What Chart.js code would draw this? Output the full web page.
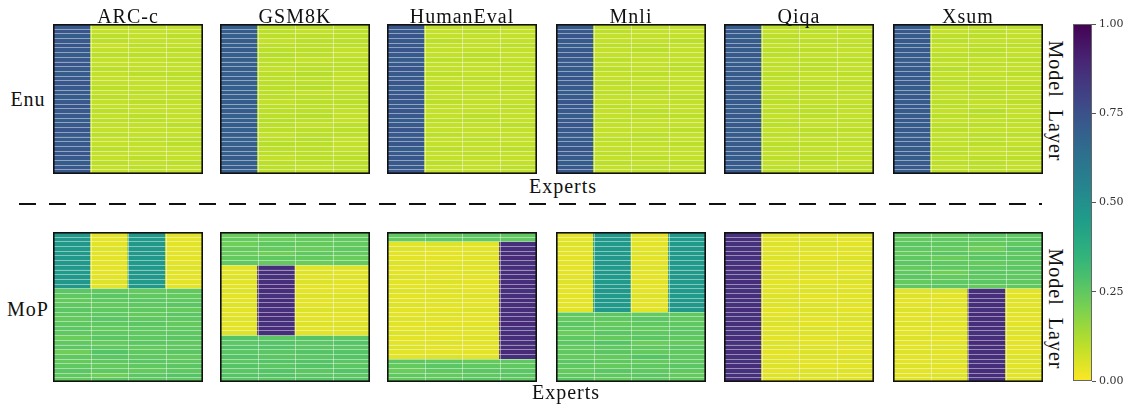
<!DOCTYPE html>
<html>
<head>
<meta charset="utf-8">
<script src="https://cdn.jsdelivr.net/npm/chart.js@4.4.1/dist/chart.umd.min.js"></script>
<style>
  html, body { margin: 0; padding: 0; background: #fff; width: 1128px; height: 410px; overflow: hidden; }
  #fig { position: relative; width: 1128px; height: 410px; font-family: "Liberation Serif", "Times New Roman", serif; color: #111; }
  .lbl { position: absolute; font-size: 20px; line-height: 20px; white-space: nowrap; letter-spacing: 1px; }
  .vert { position: absolute; font-size: 20px; line-height: 20px; white-space: pre; letter-spacing: 1px; transform: translate(-50%, -50%) rotate(90deg); }
  canvas { position: absolute; }
</style>
</head>
<body>
<div id="fig"></div>
<script>
// ---- labels ----
const TASKS = ['ARC-c', 'GSM8K', 'HumanEval', 'Mnli', 'Qiqa', 'Xsum'];
const METHODS = ['Enu', 'MoP'];
const EXPERTS = ['Expert 1', 'Expert 2', 'Expert 3', 'Expert 4'];
const CBAR_TICKS = [0, 0.25, 0.5, 0.75, 1];

// ---- routing weights: one row per model layer (top = first layer), one column per expert ----
const enuArc = [
  [0.72,0.09,0.10,0.09],[0.73,0.09,0.09,0.09],[0.71,0.10,0.09,0.10],[0.72,0.10,0.09,0.09],
  [0.73,0.08,0.10,0.09],[0.72,0.09,0.09,0.10],[0.71,0.10,0.10,0.09],[0.72,0.09,0.09,0.10],
  [0.73,0.09,0.09,0.09],[0.72,0.10,0.09,0.09],[0.71,0.09,0.10,0.10],[0.72,0.09,0.09,0.10],
  [0.73,0.09,0.09,0.09],[0.72,0.10,0.09,0.09],[0.72,0.09,0.10,0.09],[0.71,0.10,0.09,0.10],
  [0.72,0.09,0.10,0.09],[0.73,0.09,0.09,0.09],[0.72,0.10,0.09,0.09],[0.72,0.09,0.10,0.09],
  [0.71,0.10,0.10,0.09],[0.72,0.09,0.09,0.10],[0.73,0.09,0.09,0.09],[0.72,0.10,0.09,0.09],
  [0.71,0.09,0.10,0.10],[0.72,0.09,0.09,0.10],[0.72,0.10,0.09,0.09],[0.73,0.09,0.09,0.09],
  [0.72,0.09,0.10,0.09],[0.71,0.10,0.09,0.10],[0.72,0.09,0.10,0.09],[0.73,0.09,0.09,0.09]
];
const enuGsm = [
  [0.70,0.10,0.10,0.10],[0.71,0.10,0.09,0.10],[0.70,0.10,0.10,0.10],[0.71,0.09,0.10,0.10],
  [0.70,0.10,0.10,0.10],[0.71,0.10,0.10,0.09],[0.70,0.11,0.10,0.09],[0.71,0.10,0.09,0.10],
  [0.70,0.10,0.10,0.10],[0.71,0.09,0.10,0.10],[0.70,0.10,0.11,0.09],[0.71,0.10,0.10,0.09],
  [0.70,0.10,0.10,0.10],[0.70,0.10,0.11,0.09],[0.71,0.10,0.09,0.10],[0.70,0.10,0.10,0.10],
  [0.71,0.09,0.10,0.10],[0.70,0.10,0.10,0.10],[0.71,0.10,0.10,0.09],[0.70,0.10,0.11,0.09],
  [0.70,0.11,0.10,0.09],[0.71,0.10,0.09,0.10],[0.70,0.10,0.10,0.10],[0.71,0.09,0.10,0.10],
  [0.70,0.10,0.11,0.09],[0.70,0.11,0.10,0.09],[0.71,0.10,0.10,0.09],[0.70,0.10,0.10,0.10],
  [0.71,0.09,0.10,0.10],[0.70,0.10,0.10,0.10],[0.71,0.10,0.09,0.10],[0.70,0.10,0.10,0.10]
];
const enuHe = [
  [0.73,0.09,0.09,0.09],[0.72,0.09,0.10,0.09],[0.73,0.09,0.09,0.09],[0.72,0.10,0.09,0.09],
  [0.72,0.09,0.09,0.10],[0.73,0.09,0.09,0.09],[0.72,0.09,0.10,0.09],[0.71,0.10,0.10,0.09],
  [0.72,0.09,0.09,0.10],[0.73,0.09,0.09,0.09],[0.72,0.10,0.09,0.09],[0.72,0.09,0.10,0.09],
  [0.73,0.09,0.09,0.09],[0.71,0.10,0.09,0.10],[0.72,0.09,0.10,0.09],[0.73,0.09,0.09,0.09],
  [0.72,0.10,0.09,0.09],[0.72,0.09,0.09,0.10],[0.73,0.09,0.09,0.09],[0.72,0.09,0.10,0.09],
  [0.71,0.10,0.10,0.09],[0.72,0.09,0.09,0.10],[0.73,0.09,0.09,0.09],[0.72,0.10,0.09,0.09],
  [0.72,0.09,0.10,0.09],[0.73,0.09,0.09,0.09],[0.71,0.10,0.09,0.10],[0.72,0.09,0.10,0.09],
  [0.73,0.09,0.09,0.09],[0.72,0.10,0.09,0.09],[0.72,0.09,0.09,0.10],[0.73,0.09,0.09,0.09]
];
const enuMnli = [
  [0.72,0.09,0.10,0.09],[0.72,0.10,0.09,0.09],[0.73,0.09,0.09,0.09],[0.72,0.09,0.09,0.10],
  [0.71,0.10,0.10,0.09],[0.72,0.09,0.10,0.09],[0.73,0.09,0.09,0.09],[0.72,0.10,0.09,0.09],
  [0.72,0.09,0.09,0.10],[0.71,0.10,0.09,0.10],[0.72,0.09,0.10,0.09],[0.73,0.09,0.09,0.09],
  [0.72,0.10,0.09,0.09],[0.72,0.09,0.10,0.09],[0.71,0.10,0.10,0.09],[0.72,0.09,0.09,0.10],
  [0.73,0.09,0.09,0.09],[0.72,0.10,0.09,0.09],[0.72,0.09,0.10,0.09],[0.71,0.09,0.10,0.10],
  [0.72,0.10,0.09,0.09],[0.73,0.09,0.09,0.09],[0.72,0.09,0.09,0.10],[0.72,0.09,0.10,0.09],
  [0.71,0.10,0.10,0.09],[0.72,0.09,0.09,0.10],[0.73,0.09,0.09,0.09],[0.72,0.10,0.09,0.09],
  [0.72,0.09,0.10,0.09],[0.71,0.10,0.09,0.10],[0.72,0.09,0.10,0.09],[0.73,0.09,0.09,0.09]
];
const enuQiqa = [
  [0.71,0.10,0.10,0.09],[0.72,0.09,0.10,0.09],[0.71,0.10,0.09,0.10],[0.71,0.10,0.10,0.09],
  [0.72,0.09,0.09,0.10],[0.71,0.10,0.10,0.09],[0.72,0.10,0.09,0.09],[0.71,0.09,0.10,0.10],
  [0.71,0.10,0.10,0.09],[0.72,0.09,0.10,0.09],[0.71,0.10,0.09,0.10],[0.72,0.10,0.09,0.09],
  [0.71,0.09,0.10,0.10],[0.71,0.10,0.10,0.09],[0.72,0.09,0.09,0.10],[0.71,0.10,0.10,0.09],
  [0.72,0.10,0.09,0.09],[0.71,0.09,0.10,0.10],[0.71,0.10,0.10,0.09],[0.72,0.09,0.10,0.09],
  [0.71,0.10,0.09,0.10],[0.72,0.10,0.09,0.09],[0.71,0.09,0.10,0.10],[0.71,0.10,0.10,0.09],
  [0.72,0.09,0.09,0.10],[0.71,0.10,0.10,0.09],[0.72,0.10,0.09,0.09],[0.71,0.09,0.10,0.10],
  [0.71,0.10,0.10,0.09],[0.72,0.09,0.10,0.09],[0.71,0.10,0.09,0.10],[0.72,0.10,0.09,0.09]
];
const enuXsum = [
  [0.71,0.10,0.09,0.10],[0.72,0.09,0.10,0.09],[0.71,0.10,0.10,0.09],[0.72,0.10,0.09,0.09],
  [0.71,0.09,0.10,0.10],[0.72,0.09,0.10,0.09],[0.71,0.10,0.10,0.09],[0.71,0.10,0.09,0.10],
  [0.72,0.09,0.10,0.09],[0.71,0.11,0.09,0.09],[0.72,0.09,0.09,0.10],[0.71,0.10,0.10,0.09],
  [0.72,0.10,0.09,0.09],[0.71,0.09,0.10,0.10],[0.71,0.10,0.10,0.09],[0.72,0.09,0.10,0.09],
  [0.71,0.10,0.09,0.10],[0.72,0.10,0.09,0.09],[0.71,0.09,0.11,0.09],[0.71,0.10,0.10,0.09],
  [0.72,0.09,0.09,0.10],[0.71,0.10,0.10,0.09],[0.72,0.10,0.09,0.09],[0.71,0.09,0.10,0.10],
  [0.71,0.10,0.10,0.09],[0.72,0.09,0.10,0.09],[0.71,0.10,0.09,0.10],[0.72,0.10,0.09,0.09],
  [0.71,0.09,0.10,0.10],[0.71,0.10,0.10,0.09],[0.72,0.09,0.10,0.09],[0.71,0.10,0.09,0.10]
];

const mopArc = [
  [0.47,0.04,0.47,0.04],[0.47,0.04,0.46,0.04],[0.47,0.04,0.47,0.04],[0.46,0.05,0.47,0.04],
  [0.47,0.04,0.47,0.04],[0.47,0.04,0.47,0.04],[0.47,0.04,0.46,0.04],[0.47,0.04,0.47,0.05],
  [0.46,0.04,0.47,0.04],[0.47,0.04,0.47,0.04],[0.47,0.05,0.46,0.04],[0.47,0.04,0.47,0.04],
  [0.26,0.25,0.24,0.25],[0.25,0.26,0.25,0.24],[0.24,0.25,0.26,0.25],[0.25,0.24,0.25,0.26],
  [0.26,0.25,0.25,0.24],[0.25,0.25,0.24,0.26],[0.24,0.26,0.25,0.25],[0.25,0.25,0.26,0.24],
  [0.26,0.24,0.25,0.25],[0.25,0.25,0.25,0.25],[0.23,0.26,0.25,0.26],[0.25,0.24,0.26,0.25],
  [0.26,0.25,0.24,0.25],[0.22,0.27,0.25,0.26],[0.25,0.26,0.25,0.24],[0.24,0.25,0.26,0.25],
  [0.25,0.24,0.25,0.26],[0.26,0.25,0.24,0.25],[0.25,0.22,0.26,0.27],[0.24,0.26,0.25,0.25]
];
const mopGsm = [
  [0.23,0.24,0.25,0.24],[0.24,0.23,0.24,0.25],[0.22,0.25,0.24,0.24],[0.24,0.24,0.23,0.25],
  [0.23,0.22,0.25,0.24],[0.24,0.25,0.24,0.23],[0.25,0.24,0.23,0.24],
  [0.04,0.87,0.04,0.05],[0.04,0.87,0.05,0.04],[0.05,0.86,0.04,0.05],[0.04,0.87,0.05,0.04],
  [0.04,0.88,0.04,0.04],[0.05,0.87,0.04,0.04],[0.04,0.86,0.05,0.05],[0.04,0.87,0.04,0.05],
  [0.05,0.87,0.04,0.04],[0.04,0.86,0.05,0.05],[0.04,0.88,0.04,0.04],[0.05,0.87,0.04,0.04],
  [0.04,0.86,0.05,0.05],[0.04,0.87,0.04,0.05],[0.05,0.87,0.04,0.04],
  [0.27,0.26,0.27,0.26],[0.26,0.27,0.26,0.27],[0.27,0.27,0.26,0.26],[0.26,0.26,0.27,0.27],
  [0.27,0.26,0.26,0.27],[0.26,0.27,0.27,0.26],[0.27,0.26,0.27,0.26],[0.26,0.27,0.26,0.27],
  [0.27,0.27,0.26,0.26],[0.26,0.26,0.27,0.27]
];
const mopHe = [
  [0.25,0.24,0.26,0.25],[0.24,0.26,0.25,0.25],
  [0.04,0.05,0.04,0.87],[0.05,0.04,0.04,0.87],[0.04,0.04,0.05,0.87],[0.04,0.04,0.04,0.88],
  [0.05,0.04,0.05,0.86],[0.04,0.05,0.04,0.87],[0.04,0.04,0.05,0.87],[0.05,0.04,0.04,0.87],
  [0.04,0.05,0.04,0.87],[0.04,0.04,0.04,0.88],[0.05,0.05,0.04,0.86],[0.04,0.04,0.05,0.87],
  [0.04,0.05,0.04,0.87],[0.05,0.04,0.04,0.87],[0.04,0.04,0.05,0.87],[0.04,0.05,0.04,0.87],
  [0.05,0.04,0.04,0.87],[0.04,0.04,0.04,0.88],[0.04,0.05,0.05,0.86],[0.05,0.04,0.04,0.87],
  [0.04,0.04,0.05,0.87],[0.04,0.05,0.04,0.87],[0.05,0.04,0.04,0.87],[0.04,0.04,0.04,0.88],
  [0.04,0.05,0.04,0.87],
  [0.26,0.25,0.24,0.25],[0.24,0.26,0.25,0.25],[0.23,0.25,0.26,0.26],[0.25,0.24,0.25,0.26],
  [0.24,0.25,0.26,0.25]
];
const mopMnli = [
  [0.04,0.47,0.04,0.46],[0.04,0.47,0.04,0.46],[0.05,0.46,0.04,0.46],[0.04,0.47,0.04,0.47],
  [0.04,0.46,0.05,0.46],[0.04,0.47,0.04,0.47],[0.04,0.47,0.04,0.46],[0.04,0.46,0.05,0.46],
  [0.04,0.47,0.04,0.47],[0.04,0.46,0.04,0.47],[0.05,0.46,0.04,0.46],[0.04,0.47,0.04,0.47],
  [0.04,0.47,0.04,0.46],[0.04,0.46,0.05,0.46],[0.04,0.47,0.04,0.47],[0.04,0.46,0.04,0.47],
  [0.04,0.47,0.04,0.47],
  [0.25,0.26,0.24,0.25],[0.24,0.25,0.26,0.25],[0.26,0.24,0.25,0.25],[0.25,0.25,0.24,0.26],
  [0.23,0.26,0.25,0.26],[0.25,0.24,0.26,0.25],[0.26,0.27,0.23,0.24],[0.24,0.25,0.25,0.26],
  [0.25,0.26,0.24,0.25],[0.24,0.24,0.27,0.25],[0.26,0.25,0.24,0.25],[0.25,0.24,0.25,0.26],
  [0.24,0.26,0.25,0.25],[0.25,0.25,0.26,0.24],[0.26,0.24,0.25,0.25]
];
const mopQiqa = [
  [0.86,0.05,0.04,0.05],[0.87,0.04,0.05,0.04],[0.86,0.05,0.05,0.04],[0.86,0.04,0.05,0.05],
  [0.87,0.05,0.04,0.04],[0.86,0.05,0.04,0.05],[0.86,0.04,0.05,0.05],[0.87,0.04,0.05,0.04],
  [0.86,0.05,0.05,0.04],[0.86,0.05,0.04,0.05],[0.87,0.04,0.04,0.05],[0.86,0.05,0.05,0.04],
  [0.86,0.04,0.05,0.05],[0.87,0.05,0.04,0.04],[0.86,0.05,0.04,0.05],[0.86,0.05,0.05,0.04],
  [0.87,0.04,0.05,0.04],[0.86,0.04,0.05,0.05],[0.86,0.05,0.04,0.05],[0.87,0.05,0.04,0.04],
  [0.86,0.04,0.05,0.05],[0.86,0.05,0.05,0.04],[0.87,0.04,0.04,0.05],[0.86,0.05,0.04,0.05],
  [0.86,0.05,0.05,0.04],[0.87,0.04,0.05,0.04],[0.86,0.04,0.05,0.05],[0.86,0.05,0.04,0.05],
  [0.87,0.05,0.04,0.04],[0.86,0.04,0.05,0.05],[0.86,0.05,0.05,0.04],[0.87,0.04,0.04,0.05]
];
const mopXsum = [
  [0.25,0.24,0.26,0.25],[0.24,0.25,0.25,0.26],[0.26,0.25,0.24,0.25],[0.25,0.24,0.22,0.27],
  [0.24,0.26,0.25,0.25],[0.25,0.23,0.26,0.26],[0.26,0.25,0.24,0.25],[0.24,0.25,0.25,0.26],
  [0.25,0.22,0.26,0.25],[0.26,0.24,0.25,0.25],[0.24,0.25,0.26,0.25],[0.25,0.26,0.24,0.25],
  [0.04,0.05,0.87,0.04],[0.05,0.04,0.87,0.04],[0.04,0.04,0.87,0.05],[0.04,0.05,0.87,0.04],
  [0.05,0.04,0.86,0.05],[0.04,0.04,0.88,0.04],[0.04,0.05,0.87,0.04],[0.05,0.04,0.87,0.04],
  [0.04,0.04,0.87,0.05],[0.04,0.05,0.86,0.05],[0.05,0.04,0.87,0.04],[0.04,0.04,0.88,0.04],
  [0.04,0.05,0.87,0.04],[0.05,0.04,0.87,0.04],[0.04,0.04,0.87,0.05],[0.04,0.05,0.86,0.05],
  [0.05,0.04,0.87,0.04],[0.04,0.04,0.87,0.05],[0.04,0.05,0.87,0.04],[0.05,0.04,0.86,0.05]
];

const WEIGHTS = {
  Enu: [enuArc, enuGsm, enuHe, enuMnli, enuQiqa, enuXsum],
  MoP: [mopArc, mopGsm, mopHe, mopMnli, mopQiqa, mopXsum]
};

// ---- reversed viridis colour map (0 -> yellow, 1 -> purple) ----
const VIRIDIS = ['#440154','#482878','#3e4989','#31688e','#26828e','#1f9e89','#35b779','#6ece58','#b5de2b','#fde725'];
function hexRgb(h) { return [1, 3, 5].map(i => parseInt(h.substr(i, 2), 16)); }
function viridis(t) {
  t = Math.min(1, Math.max(0, t));
  const s = t * (VIRIDIS.length - 1), i = Math.min(VIRIDIS.length - 2, Math.floor(s)), f = s - i;
  const a = hexRgb(VIRIDIS[i]), b = hexRgb(VIRIDIS[i + 1]);
  return 'rgb(' + a.map((c, k) => Math.round(c + (b[k] - c) * f)).join(',') + ')';
}
const cmap = v => viridis(1 - v);

// ---- figure layout ----
const fig = document.getElementById('fig');
const PANEL_LEFT = [53, 220, 387, 556, 724, 893];
const PANEL_W = 150;
const ROW_TOP = { Enu: 24, MoP: 232 };
const PANEL_H = 150;

function addText(cls, html, css) {
  const d = document.createElement('div');
  d.className = cls;
  d.innerHTML = html;
  Object.assign(d.style, css);
  fig.appendChild(d);
  return d;
}

// white cell separators and the black frame of each heatmap
const cellGrid = {
  id: 'cellGrid',
  afterDatasetsDraw(chart) {
    const { ctx, chartArea: a, scales: { x, y } } = chart;
    const nLayers = chart.data.datasets.length;
    ctx.save();
    ctx.strokeStyle = 'rgba(255,255,255,0.45)';
    ctx.lineWidth = 1;
    ctx.beginPath();
    for (let k = 1; k < nLayers; k++) {
      const py = Math.round(y.getPixelForValue(k)) + 0.5;
      ctx.moveTo(a.left, py); ctx.lineTo(a.right, py);
    }
    for (let i = 1; i < chart.data.labels.length; i++) {
      const px = Math.round((x.getPixelForValue(i - 1) + x.getPixelForValue(i)) / 2) + 0.5;
      ctx.moveTo(px, a.top); ctx.lineTo(px, a.bottom);
    }
    ctx.stroke();
    ctx.strokeStyle = '#111';
    ctx.lineWidth = 1.6;
    ctx.strokeRect(a.left + 0.8, a.top + 0.8, a.width - 1.6, a.height - 1.6);
    ctx.restore();
  }
};

function heatmap(method, ti) {
  const rows = WEIGHTS[method][ti];
  const cv = document.createElement('canvas');
  cv.width = PANEL_W; cv.height = PANEL_H;
  Object.assign(cv.style, { left: PANEL_LEFT[ti] + 'px', top: ROW_TOP[method] + 'px', width: PANEL_W + 'px', height: PANEL_H + 'px' });
  fig.appendChild(cv);
  new Chart(cv, {
    type: 'bar',
    data: {
      labels: EXPERTS,
      // one stacked dataset per layer; each cell spans one layer unit, coloured by its weight
      datasets: rows.map((row, li) => ({
        label: 'Layer ' + (li + 1),
        data: row.map(() => 1),
        backgroundColor: row.map(cmap),
        borderWidth: 0,
        barPercentage: 1,
        categoryPercentage: 1
      }))
    },
    options: {
      animation: false, responsive: false, devicePixelRatio: 1,
      layout: { padding: 0 },
      plugins: { legend: { display: false }, tooltip: { enabled: false } },
      scales: {
        x: { display: false, stacked: true },
        y: { display: false, stacked: true, min: 0, max: rows.length, reverse: true }
      }
    },
    plugins: [cellGrid]
  });
}

METHODS.forEach(m => TASKS.forEach((t, i) => heatmap(m, i)));

// task titles
TASKS.forEach((t, i) => addText('lbl', t, { left: (PANEL_LEFT[i] + PANEL_W / 2) + 'px', top: '6px', transform: 'translateX(-50%)' }));
// row labels
addText('lbl', 'Enu', { left: '28px', top: '99px', transform: 'translate(-50%,-50%)' });
addText('lbl', 'MoP', { left: '28px', top: '309px', transform: 'translate(-50%,-50%)' });
// axis labels
addText('lbl', 'Experts', { left: '563px', top: '186px', transform: 'translate(-50%,-50%)' });
addText('lbl', 'Experts', { left: '566px', top: '392px', transform: 'translate(-50%,-50%)' });
addText('vert', 'Model  Layer', { left: '1056px', top: '101px' });
addText('vert', 'Model  Layer', { left: '1056px', top: '309px' });

// dashed separator between the two methods
const sep = document.createElementNS('http://www.w3.org/2000/svg', 'svg');
sep.setAttribute('width', '1128'); sep.setAttribute('height', '410');
Object.assign(sep.style, { position: 'absolute', left: '0px', top: '0px', pointerEvents: 'none' });
sep.innerHTML = '<line x1="19" y1="204" x2="1042" y2="204" stroke="#111" stroke-width="2" stroke-dasharray="17 13"/>';
fig.appendChild(sep);

// ---- colour bar ----
const cbFrame = {
  id: 'cbFrame',
  afterDatasetsDraw(chart) {
    const { ctx, chartArea: a } = chart;
    ctx.save();
    ctx.strokeStyle = '#666';
    ctx.lineWidth = 1;
    ctx.strokeRect(a.left + 0.5, a.top + 0.5, a.width - 1, a.height - 1);
    ctx.restore();
  }
};
const cb = document.createElement('canvas');
cb.width = 55; cb.height = 377;
Object.assign(cb.style, { left: '1073px', top: '14px', width: '55px', height: '377px' });
fig.appendChild(cb);
new Chart(cb, {
  type: 'bar',
  data: {
    labels: [''],
    datasets: [{
      data: [[CBAR_TICKS[0], CBAR_TICKS[CBAR_TICKS.length - 1]]],
      backgroundColor: (c) => {
        const ch = c.chart, a = ch.chartArea;
        if (!a) return '#888';
        const y = ch.scales.y;
        const g = ch.ctx.createLinearGradient(0, y.getPixelForValue(0), 0, y.getPixelForValue(1));
        for (let k = 0; k <= 20; k++) g.addColorStop(k / 20, cmap(k / 20));
        return g;
      },
      borderWidth: 0,
      barPercentage: 1,
      categoryPercentage: 1
    }]
  },
  options: {
    animation: false, responsive: false, devicePixelRatio: 1,
    layout: { padding: { top: 10, bottom: 10, left: 0, right: 0 } },
    plugins: { legend: { display: false }, tooltip: { enabled: false } },
    scales: {
      x: { display: false },
      y: {
        position: 'right', min: 0, max: 1,
        afterFit: (s) => { s.width = 36; },
        afterBuildTicks: (s) => { s.ticks = CBAR_TICKS.map(v => ({ value: v })); },
        ticks: { callback: (v) => Number(v).toFixed(2), font: { family: 'DejaVu Serif', size: 11 }, color: '#333', padding: 3 },
        grid: { drawOnChartArea: false, drawTicks: true, tickLength: 4, color: '#555' },
        border: { display: false }
      }
    }
  },
  plugins: [cbFrame]
});
</script>
</body>
</html>
